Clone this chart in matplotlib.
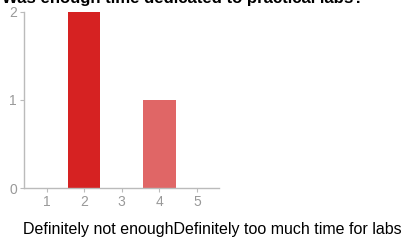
import matplotlib
matplotlib.use('Agg')
import matplotlib.pyplot as plt
import numpy as np

# data
ratings = [1, 2, 3, 4, 5]
counts = [0, 2, 0, 1, 0]
bar_colors = ['#d62222', '#d62222', '#d62222', '#e06666', '#d62222']
title = 'Was enough time dedicated to practical labs?'
scale_low = 'Definitely not enough'
scale_high = 'Definitely too much time for labs'

plt.rcParams['font.family'] = ['Liberation Sans', 'DejaVu Sans']

fig = plt.figure(figsize=(4.2, 2.43), dpi=100)
ax = fig.add_axes([0.057, 0.226, 0.464, 0.725])

ax.bar(ratings, counts, width=0.86, color=bar_colors)

ax.set_xlim(0.4, 5.58)
ax.set_ylim(0, 2)
ax.set_xticks(ratings)
ax.set_yticks([0, 1, 2])

for s in ['top', 'right']:
    ax.spines[s].set_visible(False)
for s in ['left', 'bottom']:
    ax.spines[s].set_color('#bbbbbb')
    ax.spines[s].set_linewidth(1)
ax.tick_params(colors='#bbbbbb', labelcolor='#999999', labelsize=10, length=3, pad=2)

fig.text(0.005, 0.988, title, fontsize=12.1, fontweight='bold', ha='left', va='baseline')
fig.text(0.055, 0.055, scale_low + scale_high, fontsize=11.5, ha='left', va='center')

plt.savefig('out.png', dpi=100)
